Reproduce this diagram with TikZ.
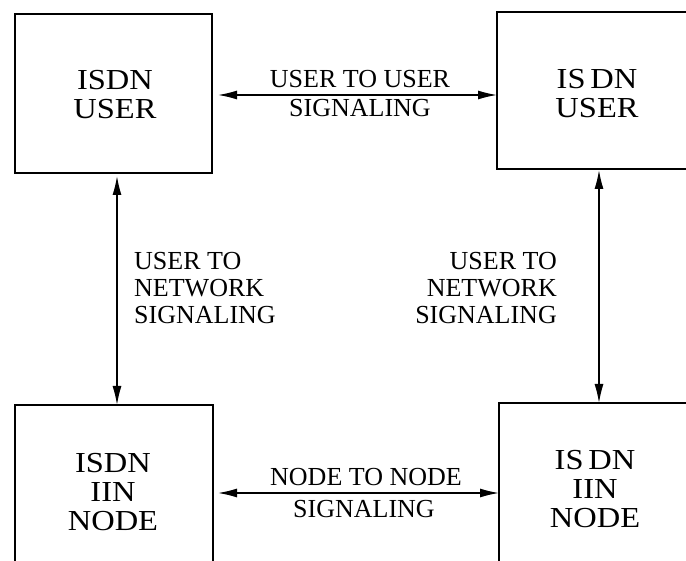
\documentclass[tikz,border=0pt]{standalone}
\usepackage{fontspec}
\setmainfont{Liberation Serif}
\newfontfamily\unitfont[FakeStretch=1.12]{Liberation Serif}
\usetikzlibrary{arrows.meta}
\begin{document}
\begin{tikzpicture}[x=1pt,y=-1pt,
  unitbox/.style={draw,line width=1.8pt,inner sep=0pt,minimum width=#1},
  boxtext/.style={font=\unitfont\fontsize{29}{29}\selectfont,align=center,inner sep=0pt},
  sigtext/.style={font=\fontsize{26}{27}\selectfont,inner sep=0pt},
  sigarrow/.style={line width=1.4pt,{Latex[length=19pt,width=9pt]}-{Latex[length=19pt,width=9pt]}}]
\useasboundingbox (0,0) rectangle (686,561);
\clip (0,0) rectangle (686,561);

% the four units (the right and lower ones run past the frame)
\node[unitbox=197pt,minimum height=159pt] (ul) at (113.5,93.5) {};
\node[unitbox=213pt,minimum height=157pt] (ur) at (603.5,90.5) {};
\node[unitbox=198pt,minimum height=172pt] (ll) at (114,491) {};
\node[unitbox=211pt,minimum height=174pt] (lr) at (604.5,490) {};

\node[boxtext] (ult) at (115,95) {ISDN\\USER};
\node[boxtext] (urt) at (597,94) {IS\,DN\\USER};
\node[boxtext] (llt) at (113,492) {ISDN\\IIN\\NODE};
\node[boxtext] (lrt) at (595,489) {IS\,DN\\IIN\\NODE};

% user to user
\coordinate (a1) at (218,95);
\coordinate (a2) at (497,95);
\draw[sigarrow] (a1) -- (a2);
\node[sigtext] (s1) at (360,79) {USER TO USER};
\node[sigtext] (s2) at (360,108) {SIGNALING};

% node to node
\coordinate (b1) at (218,493);
\coordinate (b2) at (499,493);
\draw[sigarrow] (b1) -- (b2);
\node[sigtext] (s3) at (366,477) {NODE TO NODE};
\node[sigtext] (s4) at (364,509) {SIGNALING};

% user to network, both sides
\coordinate (c1) at (117,176);
\coordinate (c2) at (117,405);
\draw[sigarrow] (c1) -- (c2);
\coordinate (d1) at (599,170);
\coordinate (d2) at (599,403);
\draw[sigarrow] (d1) -- (d2);

\node[sigtext,align=left,anchor=west] (s5) at (134,288) {USER TO\\NETWORK\\SIGNALING};
\node[sigtext,align=right,anchor=east] (s6) at (557,288) {USER TO\\NETWORK\\SIGNALING};
\end{tikzpicture}
\end{document}
